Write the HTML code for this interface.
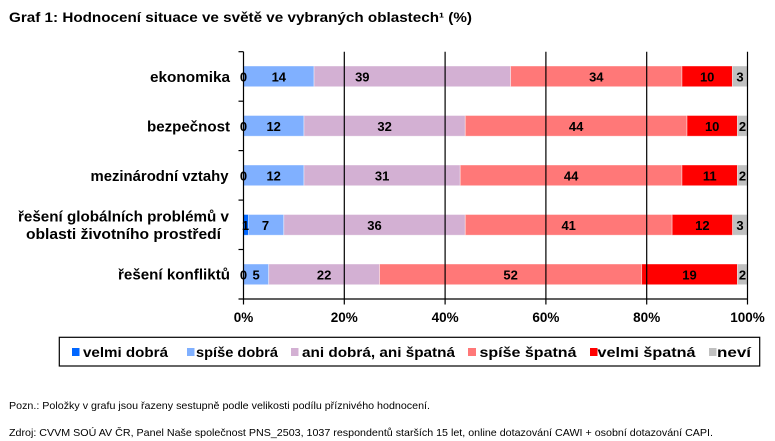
<!DOCTYPE html>
<html>
<head>
<meta charset="utf-8">
<style>
html,body{margin:0;padding:0;background:#fff;}
svg{display:block;}
text{font-family:"Liberation Sans",Arial,sans-serif;fill:#000;}
.b{font-weight:bold;font-size:13px;}
.l{font-weight:bold;font-size:14px;}
.d{font-weight:bold;font-size:13px;text-anchor:middle;}
.t{font-weight:bold;font-size:13.5px;text-anchor:middle;}
.c{font-weight:bold;font-size:14.5px;text-anchor:end;}
.n{font-size:10.5px;}
</style>
</head>
<body>
<svg width="775" height="441" viewBox="0 0 775 441" xmlns="http://www.w3.org/2000/svg">
<rect width="775" height="441" fill="#fff"/>
<text x="9" y="22" class="b" style="font-size:13.5px" textLength="463" lengthAdjust="spacingAndGlyphs">Graf 1: Hodnocení situace ve světě ve vybraných oblastech¹ (%)</text>

<!-- bars -->
<g stroke="#fff" stroke-opacity="0.5" stroke-width="0.8">
<!-- ekonomika -->
<rect x="243.5" y="66" width="70.56" height="20.7" fill="#80B0FF"/>
<rect x="314.06" y="66" width="196.56" height="20.7" fill="#D3B0D3"/>
<rect x="510.62" y="66" width="171.36" height="20.7" fill="#FF7878"/>
<rect x="681.98" y="66" width="50.4" height="20.7" fill="#FF0000"/>
<rect x="732.38" y="66" width="15.12" height="20.7" fill="#C0C0C0"/>
<!-- bezpecnost -->
<rect x="243.5" y="115.5" width="60.48" height="20.7" fill="#80B0FF"/>
<rect x="303.98" y="115.5" width="161.28" height="20.7" fill="#D3B0D3"/>
<rect x="465.26" y="115.5" width="221.76" height="20.7" fill="#FF7878"/>
<rect x="687.02" y="115.5" width="50.4" height="20.7" fill="#FF0000"/>
<rect x="737.42" y="115.5" width="10.08" height="20.7" fill="#C0C0C0"/>
<!-- mezinarodni -->
<rect x="243.5" y="165" width="60.48" height="20.7" fill="#80B0FF"/>
<rect x="303.98" y="165" width="156.24" height="20.7" fill="#D3B0D3"/>
<rect x="460.22" y="165" width="221.76" height="20.7" fill="#FF7878"/>
<rect x="681.98" y="165" width="55.44" height="20.7" fill="#FF0000"/>
<rect x="737.42" y="165" width="10.08" height="20.7" fill="#C0C0C0"/>
<!-- globalni -->
<rect x="243.5" y="214.5" width="5.04" height="20.7" fill="#0066FF"/>
<rect x="248.54" y="214.5" width="35.28" height="20.7" fill="#80B0FF"/>
<rect x="283.82" y="214.5" width="181.44" height="20.7" fill="#D3B0D3"/>
<rect x="465.26" y="214.5" width="206.88" height="20.7" fill="#FF7878"/>
<rect x="672.14" y="214.5" width="60.48" height="20.7" fill="#FF0000"/>
<rect x="732.62" y="214.5" width="14.88" height="20.7" fill="#C0C0C0"/>
<!-- konflikt -->
<rect x="243.5" y="264" width="25.2" height="20.7" fill="#80B0FF"/>
<rect x="268.7" y="264" width="110.88" height="20.7" fill="#D3B0D3"/>
<rect x="379.58" y="264" width="262.08" height="20.7" fill="#FF7878"/>
<rect x="641.66" y="264" width="95.76" height="20.7" fill="#FF0000"/>
<rect x="737.42" y="264" width="10.08" height="20.7" fill="#C0C0C0"/>
</g>

<!-- grid + axes -->
<g stroke="#000" stroke-width="1.2">
<line x1="344.3" y1="51.7" x2="344.3" y2="304.5"/>
<line x1="445.1" y1="51.7" x2="445.1" y2="304.5"/>
<line x1="545.9" y1="51.7" x2="545.9" y2="304.5"/>
<line x1="646.7" y1="51.7" x2="646.7" y2="304.5"/>
<line x1="747.5" y1="51.7" x2="747.5" y2="304.5"/>
<line x1="243.5" y1="51.7" x2="243.5" y2="304.5"/>
<line x1="238.5" y1="299" x2="747.5" y2="299"/>
<line x1="238.5" y1="51.7" x2="243.5" y2="51.7"/>
<line x1="238.5" y1="101.2" x2="243.5" y2="101.2"/>
<line x1="238.5" y1="150.6" x2="243.5" y2="150.6"/>
<line x1="238.5" y1="200.1" x2="243.5" y2="200.1"/>
<line x1="238.5" y1="249.5" x2="243.5" y2="249.5"/>
</g>

<!-- data labels -->
<g>
<text x="243.5" y="81.5" class="d">0</text>
<text x="278.8" y="81.5" class="d">14</text>
<text x="362.3" y="81.5" class="d">39</text>
<text x="596.3" y="81.5" class="d">34</text>
<text x="707.2" y="81.5" class="d">10</text>
<text x="740" y="81.5" class="d">3</text>

<text x="243.5" y="131" class="d">0</text>
<text x="273.7" y="131" class="d">12</text>
<text x="384.6" y="131" class="d">32</text>
<text x="576.1" y="131" class="d">44</text>
<text x="712.2" y="131" class="d">10</text>
<text x="742.5" y="131" class="d">2</text>

<text x="243.5" y="180.5" class="d">0</text>
<text x="273.7" y="180.5" class="d">12</text>
<text x="382.1" y="180.5" class="d">31</text>
<text x="571.1" y="180.5" class="d">44</text>
<text x="709.7" y="180.5" class="d">11</text>
<text x="742.5" y="180.5" class="d">2</text>

<text x="245.5" y="230" class="d">1</text>
<text x="265.5" y="230" class="d">7</text>
<text x="374.5" y="230" class="d">36</text>
<text x="568.7" y="230" class="d">41</text>
<text x="702.4" y="230" class="d">12</text>
<text x="740" y="230" class="d">3</text>

<text x="243.5" y="279.5" class="d">0</text>
<text x="256.1" y="279.5" class="d">5</text>
<text x="324.1" y="279.5" class="d">22</text>
<text x="510.6" y="279.5" class="d">52</text>
<text x="689.5" y="279.5" class="d">19</text>
<text x="742.5" y="279.5" class="d">2</text>
</g>

<!-- category labels -->
<text x="230" y="82" class="c" textLength="80" lengthAdjust="spacingAndGlyphs">ekonomika</text>
<text x="230" y="131.5" class="c" textLength="83" lengthAdjust="spacingAndGlyphs">bezpečnost</text>
<text x="228.5" y="181" class="c" textLength="138" lengthAdjust="spacingAndGlyphs">mezinárodní vztahy</text>
<text x="229" y="221.5" class="c" textLength="211" lengthAdjust="spacingAndGlyphs">řešení globálních problémů v</text>
<text x="221" y="239" class="c" textLength="195" lengthAdjust="spacingAndGlyphs">oblasti životního prostředí</text>
<text x="230" y="279.5" class="c" textLength="112" lengthAdjust="spacingAndGlyphs">řešení konfliktů</text>

<!-- x tick labels -->
<text x="243.5" y="322" class="t">0%</text>
<text x="344.3" y="322" class="t">20%</text>
<text x="445.1" y="322" class="t">40%</text>
<text x="545.9" y="322" class="t">60%</text>
<text x="646.7" y="322" class="t">80%</text>
<text x="747.5" y="322" class="t">100%</text>

<!-- legend -->
<rect x="59.3" y="337.3" width="700.4" height="28.7" fill="#fff" stroke="#000" stroke-width="1.2"/>
<rect x="72" y="348" width="7.5" height="8" fill="#0066FF"/>
<text x="83" y="357" class="l" textLength="85" lengthAdjust="spacingAndGlyphs">velmi dobrá</text>
<rect x="187" y="348" width="7.5" height="8" fill="#80B0FF"/>
<text x="196" y="357" class="l" textLength="82" lengthAdjust="spacingAndGlyphs">spíše dobrá</text>
<rect x="291" y="348" width="7.5" height="8" fill="#D3B0D3"/>
<text x="302" y="357" class="l" textLength="153" lengthAdjust="spacingAndGlyphs">ani dobrá, ani špatná</text>
<rect x="468" y="348" width="8" height="8" fill="#FF7878"/>
<text x="479.5" y="357" class="l" textLength="97" lengthAdjust="spacingAndGlyphs">spíše špatná</text>
<rect x="590" y="348" width="7.5" height="8" fill="#FF0000"/>
<text x="597.5" y="357" class="l" textLength="98" lengthAdjust="spacingAndGlyphs">velmi špatná</text>
<rect x="709" y="348" width="7.5" height="8" fill="#C0C0C0"/>
<text x="717" y="357" class="l" textLength="34" lengthAdjust="spacingAndGlyphs">neví</text>

<!-- notes -->
<text x="9" y="409" class="n" textLength="421" lengthAdjust="spacingAndGlyphs">Pozn.: Položky v grafu jsou řazeny sestupně podle velikosti podílu příznivého hodnocení.</text>
<text x="9" y="436" class="n" textLength="704" lengthAdjust="spacingAndGlyphs">Zdroj: CVVM SOÚ AV ČR, Panel Naše společnost PNS_2503, 1037 respondentů starších 15 let, online dotazování CAWI + osobní dotazování CAPI.</text>
</svg>
</body>
</html>
